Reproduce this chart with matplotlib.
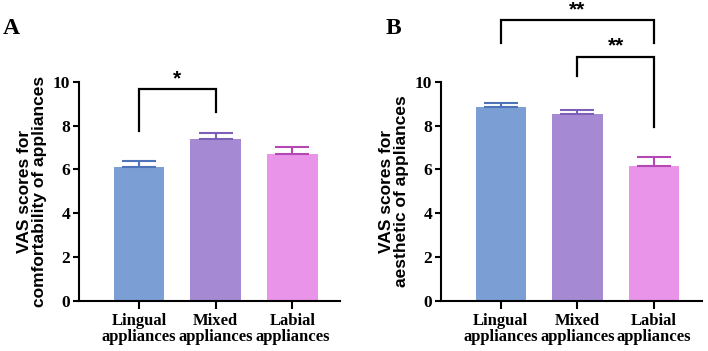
import numpy as np
import matplotlib
matplotlib.use("Agg")
import matplotlib.pyplot as plt

categories = ["Lingual\nappliances", "Mixed\nappliances", "Labial\nappliances"]
comfort_mean = [6.1, 7.4, 6.7]
comfort_err = [0.3, 0.25, 0.32]
aesthetic_mean = [8.85, 8.55, 6.15]
aesthetic_err = [0.2, 0.18, 0.42]

bar_colors = ["#7b9fd5", "#a58ad3", "#e994e8"]
err_colors = ["#4f73b8", "#7d5fb8", "#b447b4"]

serif = "Liberation Serif"
sans = "Liberation Sans"

fig = plt.figure(figsize=(7.08, 3.51), dpi=100)
axA = fig.add_axes([0.112, 0.143, 0.368, 0.624])
axB = fig.add_axes([0.623, 0.143, 0.368, 0.624])


def draw_panel(ax, means, errs, ylabel):
    x = np.arange(len(means))
    ax.bar(x, means, width=0.66, color=bar_colors, edgecolor="none", zorder=2)
    for xi, m, e, c in zip(x, means, errs, err_colors):
        ax.errorbar(xi, m, yerr=[[0], [e]], fmt="none", ecolor=c,
                    elinewidth=1.5, capsize=12.5, capthick=1.5, zorder=3)
    ax.set_xlim(-0.78, 2.62)
    ax.set_ylim(0, 10)
    ax.set_yticks([0, 2, 4, 6, 8, 10])
    ax.set_xticks(x)
    ax.set_xticklabels(categories, fontfamily=serif, fontweight="bold",
                       fontsize=12, linespacing=1.0)
    for lab in ax.get_yticklabels():
        lab.set_fontfamily(serif)
        lab.set_fontweight("bold")
        lab.set_fontsize(12.5)
    ax.spines["top"].set_visible(False)
    ax.spines["right"].set_visible(False)
    ax.spines["left"].set_linewidth(1.5)
    ax.spines["bottom"].set_linewidth(1.5)
    ax.tick_params(axis="x", length=6, width=1.5, pad=3)
    ax.tick_params(axis="y", length=4.5, width=1.5, pad=2)
    ax.set_ylabel(ylabel, fontfamily=sans, fontweight="bold", fontsize=12.5,
                  linespacing=1.0, labelpad=4)


def bracket(ax, x1, x2, y_top, y1, y2, text, text_y):
    ax.plot([x1, x1, x2, x2], [y1, y_top, y_top, y2], color="black",
            lw=1.6, clip_on=False, solid_joinstyle="miter")
    ax.text((x1 + x2) / 2, text_y, text, ha="center", va="center",
            fontsize=15, fontweight="bold", fontfamily=sans, clip_on=False)


draw_panel(axA, comfort_mean, comfort_err,
           "VAS scores for\ncomfortability of appliances")
draw_panel(axB, aesthetic_mean, aesthetic_err,
           "VAS scores for\naesthetic of appliances")

bracket(axA, 0, 1, 9.65, 7.75, 8.6, "*", 10.15)
bracket(axB, 0, 2, 12.8, 11.75, 11.75, "**", 13.3)
bracket(axB, 1, 2, 11.15, 10.25, 7.95, "**", 11.65)

fig.text(0.004, 0.92, "A", fontfamily=serif, fontweight="bold", fontsize=17,
         ha="left", va="center")
fig.text(0.545, 0.92, "B", fontfamily=serif, fontweight="bold", fontsize=17,
         ha="left", va="center")

fig.savefig("out.png", dpi=100)
